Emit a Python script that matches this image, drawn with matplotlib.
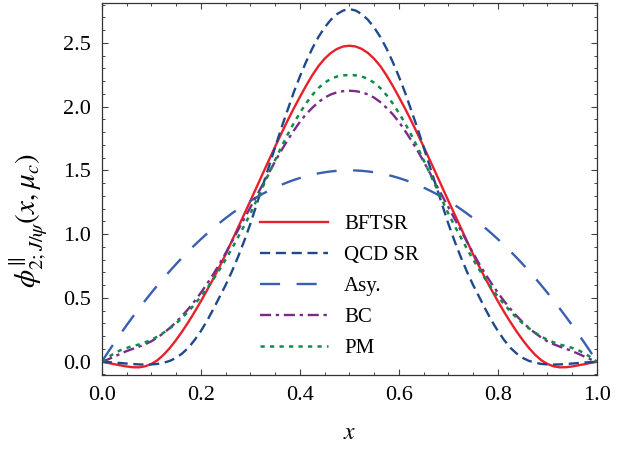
import matplotlib
matplotlib.use("Agg")
import matplotlib.pyplot as plt
from matplotlib.ticker import MultipleLocator, FormatStrFormatter

plt.rcParams['font.family'] = ['Liberation Serif', 'DejaVu Serif']
plt.rcParams['mathtext.fontset'] = 'stix'

x = [0.0, 0.0125, 0.025, 0.0375, 0.05, 0.0625, 0.075, 0.0875, 0.1, 0.1125,
     0.125, 0.1375, 0.15, 0.1625, 0.175, 0.1875, 0.2, 0.2125, 0.225, 0.2375,
     0.25, 0.2625, 0.275, 0.2875, 0.3, 0.3125, 0.325, 0.3375, 0.35, 0.3625,
     0.375, 0.3875, 0.4, 0.4125, 0.425, 0.4375, 0.45, 0.4625, 0.475, 0.4875,
     0.5, 0.5125, 0.525, 0.5375, 0.55, 0.5625, 0.575, 0.5875, 0.6, 0.6125,
     0.625, 0.6375, 0.65, 0.6625, 0.675, 0.6875, 0.7, 0.7125, 0.725, 0.7375,
     0.75, 0.7625, 0.775, 0.7875, 0.8, 0.8125, 0.825, 0.8375, 0.85, 0.8625,
     0.875, 0.8875, 0.9, 0.9125, 0.925, 0.9375, 0.95, 0.9625, 0.975, 0.9875, 1.0]

bftsr = [0.0, -0.009, -0.019, -0.028, -0.037, -0.043, -0.044, -0.036, -0.018, 0.012,
         0.055, 0.108, 0.17, 0.238, 0.312, 0.39, 0.473, 0.56, 0.65, 0.743,
         0.84, 0.945, 1.05, 1.155, 1.26, 1.367, 1.474, 1.58, 1.685, 1.788,
         1.888, 1.984, 2.075, 2.163, 2.245, 2.317, 2.375, 2.42, 2.452, 2.471,
         2.477,
         2.471, 2.452, 2.42, 2.375, 2.317, 2.245, 2.163, 2.075, 1.984, 1.888,
         1.788, 1.685, 1.58, 1.474, 1.367, 1.26, 1.155, 1.05, 0.945, 0.84,
         0.743, 0.65, 0.56, 0.473, 0.39, 0.312, 0.238, 0.17, 0.108, 0.055,
         0.012, -0.018, -0.036, -0.044, -0.043, -0.037, -0.028, -0.019, -0.009, 0.0]

qcdsr = [0.0, -0.003, -0.006, -0.01, -0.014, -0.018, -0.021, -0.022, -0.021, -0.017,
         -0.008, 0.007, 0.03, 0.065, 0.11, 0.17, 0.24, 0.32, 0.41, 0.505,
         0.6, 0.705, 0.82, 0.945, 1.08, 1.23, 1.38, 1.53, 1.68, 1.83,
         1.97, 2.11, 2.235, 2.35, 2.455, 2.545, 2.62, 2.68, 2.725, 2.753,
         2.764,
         2.753, 2.725, 2.68, 2.62, 2.545, 2.455, 2.35, 2.235, 2.11, 1.97,
         1.83, 1.68, 1.53, 1.38, 1.23, 1.08, 0.945, 0.82, 0.705, 0.6,
         0.505, 0.41, 0.32, 0.24, 0.17, 0.11, 0.065, 0.03, 0.007, -0.008,
         -0.017, -0.021, -0.022, -0.021, -0.018, -0.014, -0.01, -0.006, -0.003, 0.0]

asy = [0.0, 0.0741, 0.1463, 0.2166, 0.285, 0.3516, 0.4163, 0.4791, 0.54, 0.5991,
       0.6563, 0.7116, 0.765, 0.8166, 0.8663, 0.9141, 0.96, 1.0041, 1.0463, 1.0866,
       1.125, 1.1616, 1.1963, 1.2291, 1.26, 1.2891, 1.3163, 1.3416, 1.365, 1.3866,
       1.4063, 1.4241, 1.44, 1.4541, 1.4663, 1.4766, 1.485, 1.4916, 1.4963, 1.4991,
       1.5,
       1.4991, 1.4963, 1.4916, 1.485, 1.4766, 1.4663, 1.4541, 1.44, 1.4241, 1.4063,
       1.3866, 1.365, 1.3416, 1.3163, 1.2891, 1.26, 1.2291, 1.1963, 1.1616, 1.125,
       1.0866, 1.0463, 1.0041, 0.96, 0.9141, 0.8663, 0.8166, 0.765, 0.7116, 0.6563,
       0.5991, 0.54, 0.4791, 0.4163, 0.3516, 0.285, 0.2166, 0.1463, 0.0741, 0.0]

bc = [0.0, 0.018, 0.04, 0.062, 0.083, 0.101, 0.118, 0.137, 0.16, 0.19,
      0.225, 0.265, 0.31, 0.36, 0.415, 0.475, 0.54, 0.61, 0.685, 0.765,
      0.85, 0.94, 1.03, 1.12, 1.21, 1.30, 1.39, 1.48, 1.57, 1.655,
      1.735, 1.81, 1.88, 1.94, 1.99, 2.035, 2.07, 2.095, 2.112, 2.121,
      2.124,
      2.121, 2.112, 2.095, 2.07, 2.035, 1.99, 1.94, 1.88, 1.81, 1.735,
      1.655, 1.57, 1.48, 1.39, 1.30, 1.21, 1.12, 1.03, 0.94, 0.85,
      0.765, 0.685, 0.61, 0.54, 0.475, 0.415, 0.36, 0.31, 0.265, 0.225,
      0.19, 0.16, 0.137, 0.118, 0.101, 0.083, 0.062, 0.04, 0.018, 0.0]

pm = [0.0, 0.035, 0.065, 0.09, 0.108, 0.122, 0.135, 0.152, 0.172, 0.197,
      0.228, 0.262, 0.30, 0.345, 0.395, 0.45, 0.51, 0.575, 0.645, 0.72,
      0.80, 0.885, 0.975, 1.065, 1.16, 1.265, 1.37, 1.475, 1.58, 1.682,
      1.778, 1.868, 1.95, 2.025, 2.09, 2.145, 2.187, 2.217, 2.236, 2.245,
      2.247,
      2.245, 2.236, 2.217, 2.187, 2.145, 2.09, 2.025, 1.95, 1.868, 1.778,
      1.682, 1.58, 1.475, 1.37, 1.265, 1.16, 1.065, 0.975, 0.885, 0.80,
      0.72, 0.645, 0.575, 0.51, 0.45, 0.395, 0.345, 0.30, 0.262, 0.228,
      0.197, 0.172, 0.152, 0.135, 0.122, 0.108, 0.09, 0.065, 0.035, 0.0]

labels = ["BFTSR", "QCD SR", "Asy.", "BC", "PM"]

fig = plt.figure(figsize=(6.4, 4.49), dpi=100)
ax = fig.add_axes([0.159, 0.1648, 0.7738, 0.828])

lw = 1.7
ax.plot(x, bftsr, color='#e8202a', lw=lw, label=labels[0])
ax.plot(x, qcdsr, color='#1f4a8a', lw=lw, dashes=(4.3, 2.4), label=labels[1])
ax.plot(x, asy, color='#3a5fb0', lw=lw, dashes=(8.5, 7), label=labels[2])
ax.plot(x, bc, color='#7a2a88', lw=lw, dashes=(4.7, 2.0, 1.4, 2.0), label=labels[3])
ax.plot(x, pm, color='#138a4a', lw=1.8, dashes=(1.7, 2.1), label=labels[4])

ax.set_xlim(0, 1)
ax.set_ylim(-0.104, 2.81)
ax.xaxis.set_major_locator(MultipleLocator(0.2))
ax.xaxis.set_minor_locator(MultipleLocator(0.05))
ax.yaxis.set_major_locator(MultipleLocator(0.5))
ax.yaxis.set_minor_locator(MultipleLocator(0.1))
ax.xaxis.set_major_formatter(FormatStrFormatter('%.1f'))
ax.yaxis.set_major_formatter(FormatStrFormatter('%.1f'))
ax.tick_params(which='both', direction='in', top=True, right=True,
               labelsize=16, color='#444444', pad=8)
ax.tick_params(which='major', length=4, width=0.8)
ax.tick_params(which='minor', length=2.2, width=0.7)
for s in ax.spines.values():
    s.set_linewidth(0.9)
    s.set_color('#333333')

ax.set_xlabel(r'$x$', fontsize=17, labelpad=13)
ax.set_ylabel(r'$\phi^{\|}_{2;J/\psi}(x,\mu_c)$', fontsize=21)
ax.yaxis.set_label_coords(-0.105, 0.415)

leg = ax.legend(loc='upper left', bbox_to_anchor=(0.302, 0.454), frameon=False,
                fontsize=15, handlelength=3.3, handletextpad=0.75,
                labelspacing=0.55, borderaxespad=0.0)

fig.savefig('out.png', dpi=100)
